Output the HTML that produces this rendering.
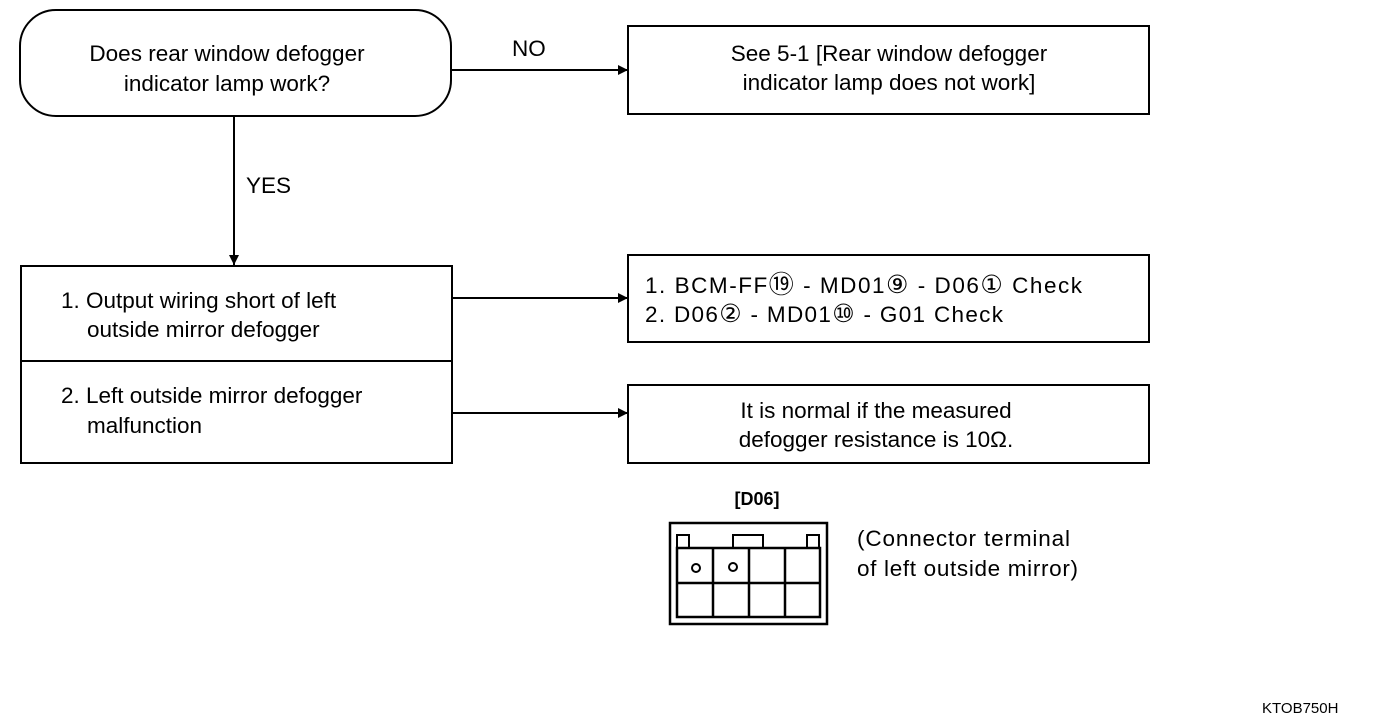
<!DOCTYPE html>
<html><head><style>body{margin:0;background:#fff}svg{display:block}text{font-family:"Liberation Sans",sans-serif;font-size:22.5px;fill:#000}.c{font-size:25px}</style></head><body>
<svg width="1376" height="726" xmlns="http://www.w3.org/2000/svg">
<defs><marker id="a" viewBox="0 0 10 10" refX="10" refY="5" markerWidth="20" markerHeight="10" markerUnits="userSpaceOnUse" orient="auto"><path d="M0,0L10,5L0,10z"/></marker></defs>
<g fill="none" stroke="#000" stroke-width="2">
<rect x="20" y="10" width="431" height="106" rx="36"/>
<rect x="628" y="26" width="521" height="88"/>
<line x1="451" y1="70" x2="628" y2="70" marker-end="url(#a)"/>
<line x1="234" y1="116" x2="234" y2="265" marker-end="url(#a)"/>
<rect x="21" y="266" width="431" height="197"/>
<line x1="21" y1="361" x2="452" y2="361"/>
<line x1="452" y1="298" x2="628" y2="298" marker-end="url(#a)"/>
<rect x="628" y="255" width="521" height="87"/>
<line x1="452" y1="413" x2="628" y2="413" marker-end="url(#a)"/>
<rect x="628" y="385" width="521" height="78"/>
<rect x="670" y="523" width="157" height="101" stroke-width="2.5"/>
<rect x="677" y="548" width="143" height="69" stroke-width="2.5"/>
<line x1="677" y1="583" x2="820" y2="583" stroke-width="2.5"/>
<line x1="713" y1="548" x2="713" y2="617" stroke-width="2.5"/>
<line x1="749" y1="548" x2="749" y2="617" stroke-width="2.5"/>
<line x1="785" y1="548" x2="785" y2="617" stroke-width="2.5"/>
<rect x="677" y="535" width="12" height="13"/>
<rect x="733" y="535" width="30" height="13"/>
<rect x="807" y="535" width="12" height="13"/>
<circle cx="696" cy="568" r="4"/>
<circle cx="733" cy="567" r="4"/>
</g>
<g text-anchor="middle">
<text x="227" y="61">Does rear window defogger</text>
<text x="227" y="91">indicator lamp work?</text>
<text x="889" y="61">See 5-1 [Rear window defogger</text>
<text x="889" y="90">indicator lamp does not work]</text>
<text x="876" y="418">It is normal if the measured</text>
<text x="876" y="447">defogger resistance is 10Ω.</text>
<text x="757" y="505" style="font-weight:bold;font-size:18px">[D06]</text>
</g>
<text x="512" y="56">NO</text>
<text x="246" y="193">YES</text>
<text x="61" y="308">1. Output wiring short of left</text>
<text x="87" y="337">outside mirror defogger</text>
<text x="61" y="403">2. Left outside mirror defogger</text>
<text x="87" y="433">malfunction</text>
<text x="645" y="293" textLength="437" lengthAdjust="spacing">1. BCM-FF<tspan class="c">⑲</tspan> - MD01<tspan class="c">⑨</tspan> - D06<tspan class="c">①</tspan>  Check</text>
<text x="645" y="322" textLength="358" lengthAdjust="spacing">2. D06<tspan class="c">②</tspan> - MD01<tspan class="c">⑩</tspan> - G01 Check</text>
<text x="857" y="546" textLength="213" lengthAdjust="spacing">(Connector terminal</text>
<text x="857" y="576" textLength="221" lengthAdjust="spacing">of left outside mirror)</text>
<text x="1262" y="713" style="font-size:15px">KTOB750H</text>
</svg>
</body></html>
